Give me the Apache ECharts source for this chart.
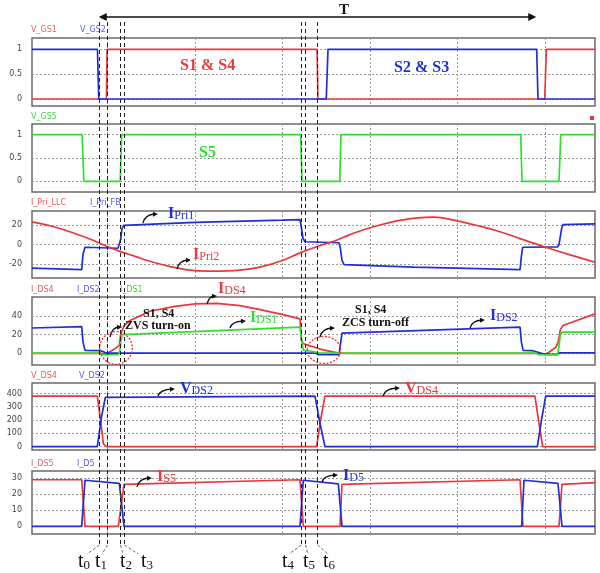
<!DOCTYPE html>
<html>
<head>
<meta charset="utf-8">
<script src="https://cdn.jsdelivr.net/npm/echarts@6/dist/echarts.min.js"></script>
<style>
html,body{margin:0;padding:0;background:#fff}
#charts{width:600px;height:573px}
</style>
</head>
<body>
<div id="charts"></div>
<script>
var RED = '#e8383d', BLUE = '#1f2fd6', GREEN = '#2ee02e';

// time axis in us, switching period T = 10
var tMin = 0.274, tMax = 13.143;
var gridTimes = [2, 4, 6, 8, 10, 12];
var markTimes = [1.8, 1.98, 2.28, 2.37, 6.415, 6.51, 6.78];
var markNames = ['0', '1', '2', '3', '4', '5', '6'];
var periodFrom = 1.8, periodTo = 11.8;

// y tick labels per panel
var ticks1 = [0, 0.5, 1];
var ticks2 = [0, 0.5, 1];
var ticks3 = [-20, 0, 20];
var ticks4 = [0, 20, 40];
var ticks5 = [0, 100, 200, 300, 400];
var ticks6 = [0, 10, 20, 30];

// panel 1 : gate signals
var vGS1 = [[0.274,0],[1.975,0],[1.99,1],[6.79,1],[6.81,0],[11.995,0],[12.03,1],[13.143,1]];
var vGS2 = [[0.274,1],[1.77,1],[1.80,0],[7.0,0],[7.04,1],[11.81,1],[11.84,0],[13.143,0]];
// panel 2
var vGS5 = [[0.274,1],[1.42,1],[1.46,0],[2.29,0],[2.325,1],[6.415,1],[6.445,0],[7.31,0],[7.335,1],
  [11.445,1],[11.475,0],[12.32,0],[12.36,1],[13.143,1]];
// panel 3 : primary currents
var iPriLLC = [[0.274,23],[0.686,19],[1.143,13],[1.6,5.5],[1.943,-1],[2.286,-7],[2.629,-12],[2.971,-17],
  [3.543,-23.5],[4.0,-26.5],[4.411,-27],[5.029,-26],[5.486,-23],[6.011,-16],[6.4,-8.5],[6.857,-1],
  [7.154,3],[7.543,10],[8.0,17],[8.686,24.5],[9.44,27.8],[9.989,24],[10.514,18.5],[10.971,13],
  [11.429,6],[12.0,-2.5],[12.571,-10.5],[13.143,-18]];
var iPriFB = [[0.274,-24],[1.41,-25.5],[1.44,-10],[1.486,-2.8],[2.24,-3.8],[2.27,-2],[2.30,5],[2.33,16],
  [2.37,19.5],[2.4,20.3],[4.0,22.5],[6.0,24.8],[6.40,25.3],[6.43,18],[6.47,6],[6.514,2.8],[7.29,1.8],
  [7.32,-3],[7.36,-16],[7.406,-20.5],[9.0,-23],[11.43,-25.5],[11.46,-12],[11.49,-2.8],[12.29,-2.5],
  [12.32,0],[12.35,8],[12.38,16],[12.41,20.2],[13.143,21]];
// panel 4 : switch currents
var iDS4 = [[0.274,0],[1.8,0],[1.98,-0.5],[2.06,2],[2.17,5],[2.27,8.5],[2.30,20],[2.377,29.6],[2.514,35],
  [2.971,44.8],[3.543,50],[4.0,52.6],[4.496,53.3],[5.029,50.8],[5.486,46.6],[6.011,41.3],[6.40,36.7],
  [6.43,14],[6.47,10.5],[6.9,4],[7.314,0],[11.8,0],[12.0,-1],[12.1,1.4],[12.25,6.7],[12.3,12],
  [12.35,25],[12.41,29.6],[13.143,42]];
var iDS2 = [[0.274,27],[1.41,28.5],[1.44,12],[1.486,3.2],[1.83,3],[1.98,0.3],[6.76,0.3],[6.81,-1.4],
  [7.29,-1.4],[7.32,8],[7.36,21.5],[11.43,28],[11.46,12],[11.5,3.2],[11.7,3],[12.0,-1],[12.26,-1],
  [12.34,0.5],[13.143,0.5]];
var iDS1 = [[0.274,0.3],[1.8,0.3],[1.86,-1.2],[2.25,-1.5],[2.28,3],[2.31,14],[2.34,20],[2.38,21.8],
  [6.4,28],[6.43,16],[6.475,3.5],[6.7,2],[6.85,0.3],[11.8,0.3],[11.85,-1.4],[12.29,-1.6],[12.32,8],
  [12.35,20],[12.39,22.5],[13.143,22.5]];
// panel 5 : drain-source voltages
var vDS4 = [[0.274,380],[1.767,380],[1.86,150],[1.904,20],[1.98,0],[6.78,0],[6.87,200],[6.97,380],
  [11.77,380],[11.86,180],[11.947,0],[13.143,0]];
var vDS2 = [[0.274,0],[1.767,0],[1.86,220],[1.95,370],[1.99,380],[6.743,380],[6.86,170],[6.971,0],
  [11.824,0],[11.92,200],[12.016,380],[13.143,380]];
// panel 6 : S5 and D5 currents
var iDS5 = [[0.274,28.8],[1.41,28.8],[1.486,0],[2.247,0],[2.377,26],[6.40,28.8],[6.475,0],[7.314,0],
  [7.36,26],[11.43,28.8],[11.497,0],[12.32,0],[12.389,26],[13.143,27]];
var iD5 = [[0.274,0],[1.41,0],[1.486,28.5],[2.27,26.5],[2.377,0],[6.40,0],[6.475,28.5],[7.275,26.3],
  [7.36,0],[11.467,0],[11.52,28.5],[12.297,26.5],[12.389,0],[13.143,0]];

var panels = [
  {top: 38, height: 68, min: -0.141, max: 1.227, ticks: ticks1},
  {top: 124, height: 68, min: -0.227, max: 1.229, ticks: ticks2},
  {top: 211, height: 67, min: -34, max: 34, ticks: ticks3},
  {top: 297, height: 68, min: -12.4, max: 60, ticks: ticks4},
  {top: 383, height: 67, min: -26, max: 479, ticks: ticks5},
  {top: 471, height: 63, min: -4.7, max: 34.2, ticks: ticks6}
];

var dashGrid = {show: true, lineStyle: {color: '#9a9a9a', width: 1, type: [2, 2]}};
var grids = [], xAxes = [], yAxes = [];
panels.forEach(function (p, i) {
  grids.push({left: 32, right: 5, top: p.top, height: p.height, show: true,
    borderColor: '#6a6a6a', borderWidth: 1.5, backgroundColor: '#fff'});
  xAxes.push({type: 'value', gridIndex: i, min: tMin, max: tMax,
    axisLine: {show: false}, axisLabel: {show: false},
    axisTick: {show: false, customValues: gridTimes}, splitLine: dashGrid});
  yAxes.push({type: 'value', gridIndex: i, min: p.min, max: p.max,
    axisLine: {show: false},
    axisTick: {show: false, customValues: p.ticks},
    axisLabel: {customValues: p.ticks, margin: 10, fontSize: 8, color: '#444', fontFamily: 'DejaVu Sans'},
    splitLine: dashGrid});
});

function trace(data, color, idx, smooth) {
  return {type: 'line', data: data, xAxisIndex: idx, yAxisIndex: idx, showSymbol: false, symbol: 'none',
    smooth: smooth || false, lineStyle: {color: color, width: 1.7}, itemStyle: {color: color}, animation: false};
}

var chart = echarts.init(document.getElementById('charts'));
chart.setOption({
  animation: false,
  grid: grids, xAxis: xAxes, yAxis: yAxes,
  series: [
    trace(vGS1, RED, 0), trace(vGS2, BLUE, 0),
    trace(vGS5, GREEN, 1),
    trace(iPriFB, BLUE, 2), trace(iPriLLC, RED, 2, 0.4),
    trace(iDS4, RED, 3), trace(iDS2, BLUE, 3), trace(iDS1, GREEN, 3),
    trace(vDS4, RED, 4), trace(vDS2, BLUE, 4),
    trace(iDS5, RED, 5), trace(iD5, BLUE, 5)
  ]
});

function px(t) { return chart.convertToPixel({xAxisIndex: 0}, t); }

var SERIF = 'Liberation Serif';
function arrowHead(x2, y2, cx, cy, size) {
  var dx = x2 - cx, dy = y2 - cy, L = Math.sqrt(dx * dx + dy * dy);
  dx /= L; dy /= L;
  var hx = x2 - dx * size, hy = y2 - dy * size;
  return {type: 'polygon', z: 50, shape: {points: [[x2, y2], [hx - dy * size * 0.5, hy + dx * size * 0.5],
    [hx + dy * size * 0.5, hy - dx * size * 0.5]]}, style: {fill: '#111'}};
}
function curl(x1, y1, x2, y2) {
  var cx = x1 + 2, cy = y2 + 0.5;
  return [
    {type: 'bezierCurve', z: 50, shape: {x1: x1, y1: y1, x2: x2 - 3, y2: y2, cpx1: cx, cpy1: cy},
      style: {stroke: '#111', lineWidth: 1.3, fill: null}},
    arrowHead(x2, y2, cx, cy, 5)
  ];
}
function sigName(x, y, head, sub, color) {
  return {type: 'text', z: 50, x: x, y: y, style: {
    text: '{a|' + head + '}{b|' + sub + '}', verticalAlign: 'middle', align: 'left',
    rich: {
      a: {fontSize: 16, fontFamily: SERIF, fontWeight: 'bold', fill: color, lineHeight: 16, verticalAlign: 'bottom'},
      b: {fontSize: 12, fontFamily: SERIF, fill: color, lineHeight: 16, verticalAlign: 'bottom'}
    }}};
}
function bold(x, y, txt, color, size) {
  return {type: 'text', z: 50, x: x, y: y, style: {text: txt, fill: color, verticalAlign: 'middle',
    align: 'left', fontSize: size, fontFamily: SERIF, fontWeight: 'bold'}};
}
function small(x, y, txt, color) {
  return {type: 'text', z: 50, x: x, y: y, style: {text: txt, fill: color, verticalAlign: 'middle',
    align: 'left', fontSize: 8, fontFamily: 'DejaVu Sans'}};
}

var g = [];
// panel captions
var LRED = '#e26060', LBLUE = '#5a5ae6', LGREEN = '#3fd83f';
g.push(small(31, 30, 'V_GS1', LRED), small(80, 30, 'V_GS2', LBLUE));
g.push(small(31, 117, 'V_GS5', LGREEN));
g.push(small(31, 203, 'I_Pri_LLC', LRED), small(90, 203, 'I_Pri_FB', LBLUE));
g.push(small(31, 290, 'I_DS4', LRED), small(77, 290, 'I_DS2', LBLUE), small(120, 290, 'I_DS1', LGREEN));
g.push(small(31, 376, 'V_DS4', LRED), small(79, 376, 'V_DS2', LBLUE));
g.push(small(31, 464, 'I_DS5', LRED), small(77, 464, 'I_D5', LBLUE));
g.push({type: 'rect', z: 50, shape: {x: 590, y: 116, width: 4, height: 4}, style: {fill: RED}});

// period arrow
var xa = px(periodFrom), xb = px(periodTo);
g.push({type: 'line', z: 50, shape: {x1: xa + 4, y1: 17, x2: xb - 4, y2: 17}, style: {stroke: '#111', lineWidth: 1.5}});
g.push(arrowHead(xa, 17, xa + 10, 17, 8), arrowHead(xb, 17, xb - 10, 17, 8));
g.push(bold(339, 10, 'T', '#111', 15));

// time instants
var leaderEnd = [87, 102, 123, 138, 289, 308, 328];
var labelLeft = [78, 95, 120, 141, 282, 303, 323];
markTimes.forEach(function (t, i) {
  var x = Math.round(px(t)) + 0.5;
  g.push({type: 'line', z: 60, shape: {x1: x, y1: 22, x2: x, y2: 545},
    style: {stroke: '#222', lineWidth: 1, lineDash: [4, 3]}});
  g.push({type: 'line', z: 60, shape: {x1: x, y1: 545, x2: leaderEnd[i], y2: 554},
    style: {stroke: '#444', lineWidth: 0.8, lineDash: [3, 2]}});
  g.push({type: 'text', z: 60, x: labelLeft[i], y: 562, style: {
    text: '{a|t}{b|' + markNames[i] + '}', verticalAlign: 'middle', align: 'left',
    rich: {a: {fontSize: 20, fontFamily: SERIF, fill: '#111', lineHeight: 20, verticalAlign: 'bottom'},
      b: {fontSize: 13, fontFamily: SERIF, fill: '#111', lineHeight: 18, verticalAlign: 'bottom'}}}});
});

// switch labels
g.push(bold(180, 66, 'S1 & S4', RED, 16), bold(394, 68, 'S2 & S3', BLUE, 16), bold(199, 153, 'S5', GREEN, 16));

// waveform names with arrows
g = g.concat(curl(143, 223, 158, 214)); g.push(sigName(168, 214, 'I', 'Pri1', BLUE));
g = g.concat(curl(177, 269, 191, 260)); g.push(sigName(193, 255, 'I', 'Pri2', RED));
g = g.concat(curl(207, 304, 217, 296)); g.push(sigName(218, 289, 'I', 'DS4', RED));
g = g.concat(curl(230, 328, 246, 321)); g.push(sigName(250, 318, 'I', 'DS1', GREEN));
g = g.concat(curl(470, 328, 485, 320)); g.push(sigName(490, 316, 'I', 'DS2', BLUE));
g = g.concat(curl(158, 396, 175, 389)); g.push(sigName(180, 389, 'V', 'DS2', BLUE));
g = g.concat(curl(383, 396, 400, 388)); g.push(sigName(405, 389, 'V', 'DS4', RED));
g = g.concat(curl(137, 487, 152, 478)); g.push(sigName(157, 477, 'I', 'S5', RED));
g = g.concat(curl(322, 482, 338, 475)); g.push(sigName(343, 476, 'I', 'D5', BLUE));

// soft switching notes
g.push(bold(143, 314, 'S1, S4', '#111', 12), bold(125, 326, 'ZVS turn-on', '#111', 12));
g = g.concat(curl(110, 337, 122, 327));
g.push({type: 'circle', z: 55, shape: {cx: 116, cy: 348, r: 16.3},
  style: {stroke: '#f03030', fill: null, lineWidth: 1.3, lineDash: [2, 1.5]}});
g.push(bold(355, 310, 'S1, S4', '#111', 12), bold(342, 323, 'ZCS turn-off', '#111', 12));
g = g.concat(curl(320, 337, 335, 328));
g.push({type: 'ellipse', z: 55, shape: {cx: 324, cy: 350, rx: 16.7, ry: 13.5},
  style: {stroke: '#f03030', fill: null, lineWidth: 1.3, lineDash: [2, 1.5]}});

chart.setOption({graphic: {elements: g}});
</script>
</body>
</html>
